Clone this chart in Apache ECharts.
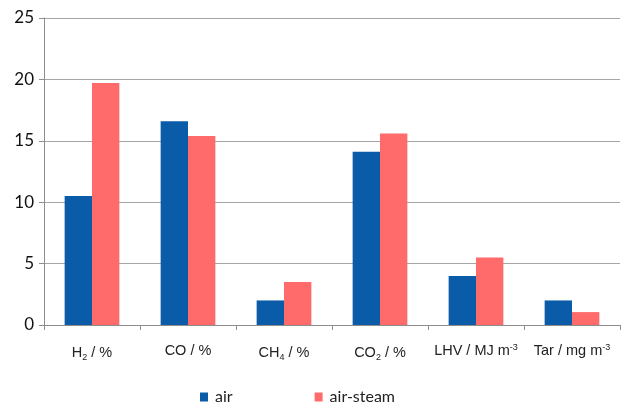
<!DOCTYPE html>
<html>
<head>
<meta charset="utf-8">
<script src="https://cdn.jsdelivr.net/npm/echarts@6/dist/echarts.min.js"></script>
<style>
  html, body { margin: 0; padding: 0; background: #fff; }
  #chart { width: 624px; height: 405px; }
</style>
</head>
<body>
<div id="chart"></div>
<script>
// categories (rich text for sub/superscripts)
var categories = [
  '{n|H}{sub|2}{n| / %}',
  '{n|CO / %}',
  '{n|CH}{sub|4}{n| / %}',
  '{n|CO}{sub|2}{n| / %}',
  '{n|LHV / MJ m}{sup|-3}',
  '{n|Tar / mg m}{sup|-3}'
];
var airValues = [10.5, 16.6, 2.0, 14.1, 4.0, 2.0];
var airSteamValues = [19.7, 15.4, 3.5, 15.6, 5.5, 1.05];
var seriesNames = ['air', 'air-steam'];

var chart = echarts.init(document.getElementById('chart'), null, { renderer: 'canvas' });

var option = {
  animation: false,
  grid: { left: 44, right: 4, top: 18, bottom: 80 },
  legend: {
    data: seriesNames,
    left: 195,
    top: 384,
    itemWidth: 8,
    itemHeight: 9,
    itemGap: 82,
    icon: 'rect',
    textStyle: { fontFamily: 'Lato', fontSize: 16, color: '#222', padding: [0, 0, 0, 2] }
  },
  xAxis: {
    type: 'category',
    data: categories,
    axisLine: { lineStyle: { color: '#8c8c8c', width: 1 } },
    axisTick: { show: true, length: 5, lineStyle: { color: '#8c8c8c' } },
    axisLabel: {
      interval: 0,
      margin: 18,
      color: '#222',
      rich: {
        n: { fontSize: 14.5, fontFamily: 'Liberation Sans', color: '#222', height: 16 },
        sub: { fontSize: 9, fontFamily: 'Liberation Sans', color: '#222', padding: [10, 0, 0, 0] },
        sup: { fontSize: 9, fontFamily: 'Liberation Sans', color: '#222', padding: [0, 0, 6, 0] }
      }
    }
  },
  yAxis: {
    type: 'value',
    min: 0,
    max: 25,
    interval: 5,
    axisLine: { show: true, lineStyle: { color: '#8c8c8c', width: 1 } },
    axisTick: { show: true, length: 5, lineStyle: { color: '#8c8c8c' } },
    splitLine: { lineStyle: { color: '#a6a6a6', width: 1 } },
    axisLabel: { margin: 10, fontFamily: 'Lato', fontSize: 17, color: '#111' }
  },
  series: [
    {
      name: seriesNames[0],
      type: 'bar',
      data: airValues,
      barGap: '0%',
      barCategoryGap: '43%',
      itemStyle: { color: '#0b5ca8' }
    },
    {
      name: seriesNames[1],
      type: 'bar',
      data: airSteamValues,
      itemStyle: { color: '#ff6b6b' }
    }
  ]
};
chart.setOption(option);
</script>
</body>
</html>
